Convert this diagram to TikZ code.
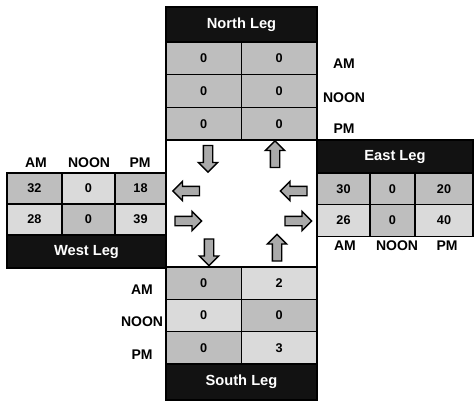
\documentclass[tikz,border=0pt]{standalone}
\usepackage{fontspec}
\setmainfont{Liberation Sans}
\usetikzlibrary{shapes.arrows}
\definecolor{CellGray}{RGB}{190,190,190}
\definecolor{CellLight}{RGB}{218,218,218}
\definecolor{HeadBlack}{RGB}{18,18,18}
\definecolor{ArrowGray}{RGB}{170,170,170}

\begin{document}
\begin{tikzpicture}[x=0.75pt,y=-0.75pt,
  every node/.style={font=\bfseries\fontsize{9.5}{11}\selectfont,inner sep=0pt},
  cell/.style 2 args={draw=black,line width=1.1pt,fill=CellGray,
                      minimum width=#1*0.75pt,minimum height=#2*0.75pt},
  legbox/.style={cell={151}{35},fill=HeadBlack,text=white,
                 font=\bfseries\fontsize{11}{13}\selectfont},
  lab/.style={font=\bfseries\fontsize{10.5}{12}\selectfont},
  blockarrow/.style={single arrow,draw=black,line width=1pt,fill=ArrowGray,
                     inner sep=3pt,minimum height=20pt,
                     single arrow head extend=3.75pt,shape border rotate=#1}]
  \useasboundingbox (0,0) rectangle (474,405);

  % centre square
  \node[cell={151}{127},fill=white] (centre) at (241.5,203.5) {};

  % north leg
  \node[legbox] (northleg) at (241.5,24.5) {North Leg};
  \foreach \r/\y/\a/\b in {1/58.3/0/0,2/91/0/0,3/123.7/0/0}{
    \node[cell={75.5}{32.7}] (n\r1) at (203.75,\y) {\a};
    \node[cell={75.5}{32.7}] (n\r2) at (279.25,\y) {\b};
  }
  \node[lab] (nam) at (344,64) {AM};
  \node[lab] (nnoon) at (344,98) {NOON};
  \node[lab] (npm) at (344,129) {PM};

  % south leg
  \foreach \r/\y/\a/\fa/\b/\fb in {1/283.2/0/CellGray/2/CellLight,
      2/315.5/0/CellLight/0/CellGray,3/347.8/0/CellGray/3/CellLight}{
    \node[cell={75.5}{32.3},fill=\fa] (s\r1) at (203.75,\y) {\a};
    \node[cell={75.5}{32.3},fill=\fb] (s\r2) at (279.25,\y) {\b};
  }
  \node[legbox,minimum height=36*0.75pt] (southleg) at (241.5,382) {South Leg};
  \node[lab] (sam) at (142,290) {AM};
  \node[lab] (snoon) at (142,322) {NOON};
  \node[lab] (spm) at (142,355) {PM};

  % west leg
  \node[lab] (wam) at (36,163) {AM};
  \node[lab] (wnoon) at (89,163) {NOON};
  \node[lab] (wpm) at (140,163) {PM};
  \foreach \r/\y/\a/\fa/\b/\fb/\c/\fc in {1/188.5/32/CellGray/0/CellLight/18/CellGray,
      2/219.5/28/CellLight/0/CellGray/39/CellLight}{
    \node[cell={55}{31},fill=\fa] (w\r1) at (34.5,\y) {\a};
    \node[cell={53}{31},fill=\fb] (w\r2) at (88.5,\y) {\b};
    \node[cell={51}{31},fill=\fc] (w\r3) at (140.5,\y) {\c};
  }
  \node[legbox,minimum width=159*0.75pt,minimum height=33*0.75pt] (westleg) at (86.5,251.5) {West Leg};

  % east leg
  \node[legbox,minimum width=156*0.75pt,minimum height=33*0.75pt] (eastleg) at (395,156.5) {East Leg};
  \foreach \r/\y/\a/\fa/\b/\fb/\c/\fc in {1/189/30/CellGray/0/CellGray/20/CellGray,
      2/220.5/26/CellLight/0/CellGray/40/CellLight}{
    \node[cell={53}{31.5},fill=\fa] (e\r1) at (343.5,\y) {\a};
    \node[cell={45}{31.5},fill=\fb] (e\r2) at (392.5,\y) {\b};
    \node[cell={58}{31.5},fill=\fc] (e\r3) at (444,\y) {\c};
  }
  \node[lab] (eam) at (345,246) {AM};
  \node[lab] (enoon) at (397,246) {NOON};
  \node[lab] (epm) at (447,246) {PM};

  % turning arrows
  \node[blockarrow=270] (ndown) at (208,156.5) {};
  \node[blockarrow=90] (nup) at (275,156.5) {};
  \node[blockarrow=180] (wleft) at (188.5,191) {};
  \node[blockarrow=0] (wright) at (186,221) {};
  \node[blockarrow=180] (eleft) at (296,191) {};
  \node[blockarrow=0] (eright) at (296,221) {};
  \node[blockarrow=270] (sdown) at (209,250) {};
  \node[blockarrow=90] (sup) at (277,250) {};
\end{tikzpicture}
\end{document}
